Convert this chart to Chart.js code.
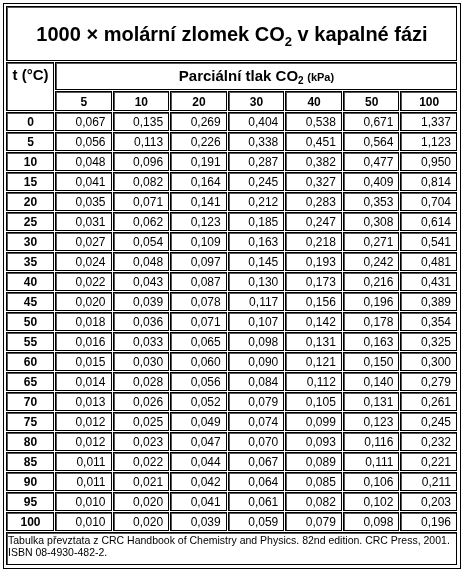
<!DOCTYPE html>
<html><head><meta charset="utf-8">
<script src="https://cdn.jsdelivr.net/npm/chart.js@4/dist/chart.umd.min.js"></script>
<style>html,body{margin:0;padding:0;background:#fff}canvas{display:block}</style>
</head><body>
<canvas id="c" width="464" height="571"></canvas>
<script>
const titleText = "1000 × molární zlomek CO";
const titleTail = " v kapalné fázi";
const pressureHeader = "Parciální tlak CO";
const rowHeader = "t (°C)";
const pressures = ["5","10","20","30","40","50","100"];
const temperatures = ["0","5","10","15","20","25","30","35","40","45","50","55","60","65","70","75","80","85","90","95","100"];
const p5   = [0.067,0.056,0.048,0.041,0.035,0.031,0.027,0.024,0.022,0.020,0.018,0.016,0.015,0.014,0.013,0.012,0.012,0.011,0.011,0.010,0.010];
const p10  = [0.135,0.113,0.096,0.082,0.071,0.062,0.054,0.048,0.043,0.039,0.036,0.033,0.030,0.028,0.026,0.025,0.023,0.022,0.021,0.020,0.020];
const p20  = [0.269,0.226,0.191,0.164,0.141,0.123,0.109,0.097,0.087,0.078,0.071,0.065,0.060,0.056,0.052,0.049,0.047,0.044,0.042,0.041,0.039];
const p30  = [0.404,0.338,0.287,0.245,0.212,0.185,0.163,0.145,0.130,0.117,0.107,0.098,0.090,0.084,0.079,0.074,0.070,0.067,0.064,0.061,0.059];
const p40  = [0.538,0.451,0.382,0.327,0.283,0.247,0.218,0.193,0.173,0.156,0.142,0.131,0.121,0.112,0.105,0.099,0.093,0.089,0.085,0.082,0.079];
const p50  = [0.671,0.564,0.477,0.409,0.353,0.308,0.271,0.242,0.216,0.196,0.178,0.163,0.150,0.140,0.131,0.123,0.116,0.111,0.106,0.102,0.098];
const p100 = [1.337,1.123,0.950,0.814,0.704,0.614,0.541,0.481,0.431,0.389,0.354,0.325,0.300,0.279,0.261,0.245,0.232,0.221,0.211,0.203,0.196];
const footnote = ["Tabulka převztata z CRC Handbook of Chemistry and Physics. 82nd edition. CRC Press, 2001.","ISBN 08-4930-482-2."];
const series = [p5,p10,p20,p30,p40,p50,p100];

const points = [];
series.forEach((s,ci)=>s.forEach((v,ri)=>points.push({x:ci+0.5,y:ri+0.5,v:v})));

const fmt = v => v.toFixed(3).replace('.',',');
const F = "'Liberation Sans', Arial, sans-serif";

const tablePlugin = {
  id:'table',
  afterDraw(chart){
    const ctx = chart.ctx, xs = chart.scales.x, ys = chart.scales.y;
    const X = v=>xs.getPixelForValue(v), Y = v=>ys.getPixelForValue(v);
    function cell(x0,x1,y0,y1){
      const a=X(x0), b=X(x1), c=Y(y0), d=Y(y1);
      const L=Math.round(a)+1, T=Math.round(c)+1, W=Math.round(b)-Math.round(a)-2, H=Math.round(d)-Math.round(c)-2;
      ctx.strokeStyle='#555'; ctx.lineWidth=1;
      ctx.strokeRect(L+0.5,T+0.5,W-1,H-1);
      ctx.strokeStyle='#000';
      ctx.beginPath(); ctx.moveTo(L+W-0.5,T); ctx.lineTo(L+W-0.5,T+H); ctx.moveTo(L,T+H-0.5); ctx.lineTo(L+W,T+H-0.5); ctx.stroke();
      ctx.beginPath(); ctx.moveTo(L-0.5,T-1); ctx.lineTo(L-0.5,T+H); ctx.moveTo(L-1,T-0.5); ctx.lineTo(L+W,T-0.5); ctx.stroke();
      return {a,b,c,d};
    }
    ctx.save();
    ctx.strokeStyle='#000'; ctx.lineWidth=1;
    ctx.strokeRect(X(-0.85)-2.5, Y(-5.3)-2.5, X(7)-X(-0.85)+5, Y(22.7)-Y(-5.3)+5);
    ctx.fillStyle='#000';
    let r = cell(-0.85,7,-5.3,-2.5);
    ctx.font = "bold 20px "+F; ctx.textBaseline='middle';
    const w1 = ctx.measureText(titleText).width;
    ctx.font = "bold 13px "+F; const w2 = ctx.measureText("2").width;
    ctx.font = "bold 20px "+F; const w3 = ctx.measureText(titleTail).width;
    let sx = (r.a+r.b)/2 - (w1+w2+w3)/2, cy=(r.c+r.d)/2+1;
    ctx.textAlign='left';
    ctx.fillText(titleText,sx,cy);
    ctx.font = "bold 13px "+F; ctx.fillText("2",sx+w1,cy+7);
    ctx.font = "bold 20px "+F; ctx.fillText(titleTail,sx+w1+w2,cy);
    r = cell(-0.85,0,-2.5,0);
    ctx.font = "bold 15px "+F; ctx.textAlign='center';
    ctx.fillText(rowHeader,(r.a+r.b)/2,Y(-1.8));
    r = cell(0,7,-2.5,-1.05);
    ctx.font = "bold 15px "+F;
    const h1 = ctx.measureText(pressureHeader).width;
    ctx.font = "bold 11px "+F; const h2 = ctx.measureText("2").width, h3 = ctx.measureText(" (kPa)").width;
    sx = (r.a+r.b)/2-(h1+h2+h3)/2; cy=(r.c+r.d)/2;
    ctx.textAlign='left';
    ctx.font = "bold 15px "+F; ctx.fillText(pressureHeader,sx,cy);
    ctx.font = "bold 10px "+F; ctx.fillText("2",sx+h1,cy+5);
    ctx.font = "bold 11px "+F; ctx.fillText(" (kPa)",sx+h1+h2,cy+1);
    ctx.textAlign='center'; ctx.font="bold 12px "+F;
    pressures.forEach((p,i)=>{ r=cell(i,i+1,-1.05,0); ctx.fillText(p,(r.a+r.b)/2,(r.c+r.d)/2+1); });
    temperatures.forEach((t,i)=>{ r=cell(-0.85,0,i,i+1); ctx.textAlign='center'; ctx.font="bold 12px "+F; ctx.fillText(t,(r.a+r.b)/2,(r.c+r.d)/2+1); });
    ctx.font="12px "+F; ctx.textAlign='right';
    points.forEach(pt=>{
      r=cell(pt.x-0.5,pt.x+0.5,pt.y-0.5,pt.y+0.5);
      ctx.fillText(fmt(pt.v),r.b-7,(r.c+r.d)/2+1);
    });
    r = cell(-0.85,7,21,22.7);
    ctx.font="10.5px "+F; ctx.textAlign='left';
    ctx.fillText(footnote[0],r.a+2,r.c+9);
    ctx.fillText(footnote[1],r.a+2,r.c+21);
    ctx.restore();
  }
};

new Chart(document.getElementById('c'),{
  type:'scatter',
  data:{datasets:[{data:points,pointRadius:0,showLine:false}]},
  options:{
    responsive:false, animation:false, devicePixelRatio:1,
    layout:{padding:{left:6,right:6,top:6,bottom:5}},
    plugins:{legend:{display:false},tooltip:{enabled:false}},
    scales:{
      x:{type:'linear',min:-0.85,max:7,display:false},
      y:{type:'linear',min:-5.3,max:22.7,reverse:true,display:false}
    }
  },
  plugins:[tablePlugin]
});
</script>
</body></html>
